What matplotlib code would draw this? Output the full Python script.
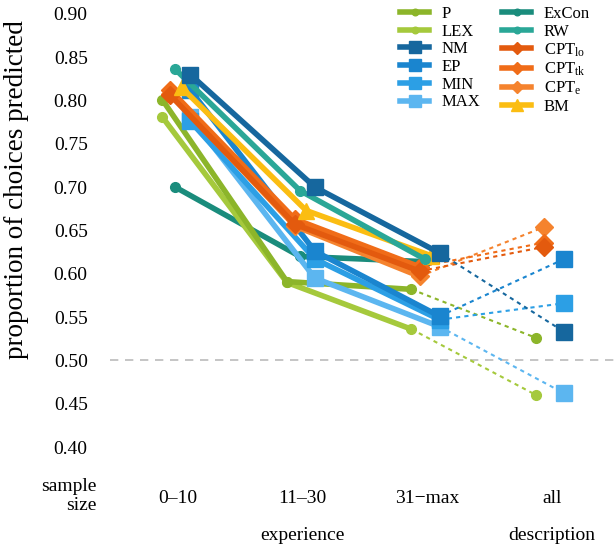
import matplotlib
matplotlib.use("Agg")
import matplotlib.pyplot as plt
from matplotlib.lines import Line2D

plt.rcParams['font.family'] = ['Liberation Serif', 'DejaVu Serif']
plt.rcParams['mathtext.fontset'] = 'custom'
plt.rcParams['mathtext.rm'] = 'Liberation Serif'
plt.rcParams['mathtext.it'] = 'Liberation Serif:italic'

categories = ['0\u201310', '11\u201330', '31\u2212max', 'all']
group_labels = ['experience', 'description']

models = ['P', 'LEX', 'NM', 'EP', 'MIN', 'MAX',
          'ExCon', 'RW', 'CPT_lo', 'CPT_tk', 'CPT_e', 'BM']
labels = ['P', 'LEX', 'NM', 'EP', 'MIN', 'MAX',
          'ExCon', 'RW', r'CPT$_{\mathrm{lo}}$', r'CPT$_{\mathrm{tk}}$', r'CPT$_{\mathrm{e}}$', 'BM']

# experience values (0-10, 11-30, 31-max)
exp_P      = [0.801, 0.591, 0.582]
exp_LEX    = [0.781, 0.590, 0.536]
exp_NM     = [0.830, 0.700, 0.624]
exp_EP     = [0.812, 0.626, 0.551]
exp_MIN    = [0.776, 0.617, 0.547]
exp_MAX    = [0.781, 0.595, 0.539]
exp_ExCon  = [0.700, 0.620, 0.614]
exp_RW     = [0.836, 0.696, 0.617]
exp_CPT_lo = [0.806, 0.657, 0.603]
exp_CPT_tk = [0.812, 0.663, 0.608]
exp_CPT_e  = [0.808, 0.655, 0.597]
exp_BM     = [0.815, 0.673, 0.621]

# description values ("all"); None where model not applicable
desc_P      = 0.526
desc_LEX    = 0.460
desc_NM     = 0.533
desc_EP     = 0.617
desc_MIN    = 0.566
desc_MAX    = 0.462
desc_ExCon  = None
desc_RW     = None
desc_CPT_lo = 0.631
desc_CPT_tk = 0.636
desc_CPT_e  = 0.654
desc_BM     = None

exp_vals = [exp_P, exp_LEX, exp_NM, exp_EP, exp_MIN, exp_MAX,
            exp_ExCon, exp_RW, exp_CPT_lo, exp_CPT_tk, exp_CPT_e, exp_BM]
desc_vals = [desc_P, desc_LEX, desc_NM, desc_EP, desc_MIN, desc_MAX,
             desc_ExCon, desc_RW, desc_CPT_lo, desc_CPT_tk, desc_CPT_e, desc_BM]

colors = ['#8cb52a', '#a5c93c', '#16679e', '#1a85cf', '#2c9fe5', '#5cb6f0',
          '#1a8c7c', '#2aa797', '#e35a0e', '#f06c18', '#f5832e', '#fbbd12']
markers = ['o', 'o', 's', 's', 's', 's', 'o', 'o', 'D', 'D', 'D', '^']
msizes = [7, 7, 12, 12, 12, 12, 7, 7, 9, 9, 9, 12]
offsets = [-0.125, -0.125, 0.1, 0.1, 0.1, 0.1, -0.02, -0.02, -0.06, -0.06, -0.06, 0.03]

fig = plt.figure(figsize=(6.14, 5.47), dpi=100)
ax = fig.add_axes([0.179, 0.14, 0.821, 0.86])

ax.axhline(0.5, color='#bbbbbb', lw=1.2, ls=(0, (5, 4)), zorder=0)

draw_order = [6, 1, 0, 5, 4, 3, 10, 9, 8, 11, 7, 2]
for z, i in enumerate(draw_order):
    xs = [k + offsets[i] for k in range(3)]
    ax.plot(xs, exp_vals[i], color=colors[i], lw=4, marker=markers[i],
            ms=msizes[i], mec=colors[i], solid_joinstyle='round', zorder=2 + z)
    if desc_vals[i] is not None:
        ax.plot([2 + offsets[i], 3 + offsets[i]], [exp_vals[i][2], desc_vals[i]],
                color=colors[i], lw=1.5, ls=(0, (2, 2)), zorder=1)
        ax.plot([3 + offsets[i]], [desc_vals[i]], color=colors[i], marker=markers[i],
                ms=msizes[i], mec=colors[i], ls='none', zorder=2 + z)

ax.set_xlim(-0.545, 3.5)
ax.set_ylim(0.373, 0.916)
ax.set_yticks([0.40, 0.45, 0.50, 0.55, 0.60, 0.65, 0.70, 0.75, 0.80, 0.85, 0.90])
ax.set_yticklabels(['%.2f' % v for v in ax.get_yticks()], fontsize=14)
ax.set_xticks(range(4))
ax.set_xticklabels(categories, fontsize=14)
ax.tick_params(axis='both', length=0)
ax.tick_params(axis='x', pad=14)
ax.tick_params(axis='y', pad=16)
for s in ax.spines.values():
    s.set_visible(False)

fig.text(17 / 614, 1 - 190 / 547, 'proportion of choices predicted', rotation=90,
         ha='center', va='center', fontsize=19.5)

fig.text(97 / 614, 1 - 496 / 547, 'sample\nsize', ha='right', va='center',
         fontsize=14, linespacing=1.2)
fig.text(302 / 614, 1 - 535 / 547, group_labels[0], ha='center', va='center', fontsize=14)
fig.text(552 / 614, 1 - 535 / 547, group_labels[1], ha='center', va='center', fontsize=14)

handles = [Line2D([0], [0], color=colors[i], lw=4, marker=markers[i],
                  ms=msizes[i] * 0.68, mec=colors[i]) for i in range(12)]
leg = fig.legend(handles, labels, ncol=2, loc='upper left',
                 bbox_to_anchor=(400 / 614, 1 - 6 / 547), frameon=False, fontsize=12,
                 handlelength=1.75, handletextpad=0.75, labelspacing=0.1,
                 columnspacing=1.3, borderaxespad=0, borderpad=0)

fig.savefig('out.png', dpi=100)
